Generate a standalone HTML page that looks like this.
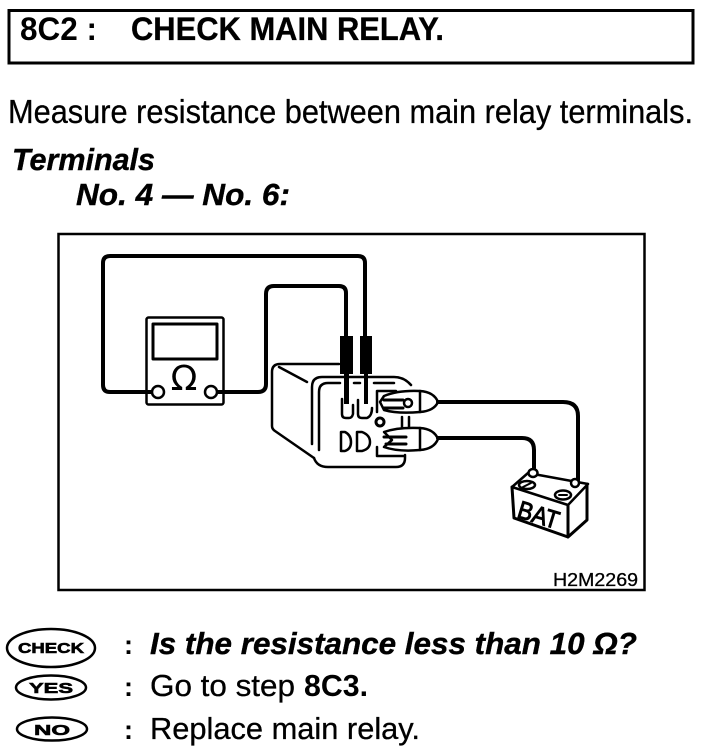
<!DOCTYPE html>
<html><head><meta charset="utf-8"><style>
html,body{margin:0;padding:0;background:#fff;width:704px;height:754px;overflow:hidden}
svg{display:block}
text{font-family:"Liberation Sans",sans-serif;fill:#000}
.b{font-weight:bold}.bi{font-weight:bold;font-style:italic}
</style></head><body>
<svg width="704" height="754" viewBox="0 0 704 754" xmlns="http://www.w3.org/2000/svg">
<rect x="9" y="10.500" width="684" height="52.500" fill="none" stroke="#000" stroke-width="3"/>
<text class="b" x="20" y="40" font-size="32" textLength="77" lengthAdjust="spacingAndGlyphs">8C2 :</text>
<text class="b" x="131" y="40" font-size="32" textLength="313" lengthAdjust="spacingAndGlyphs" stroke="#000" stroke-width=".3">CHECK MAIN RELAY.</text>
<text x="8" y="123" font-size="33" textLength="685" lengthAdjust="spacingAndGlyphs" stroke="#000" stroke-width=".3">Measure resistance between main relay terminals.</text>
<text class="bi" x="12" y="170" font-size="31" textLength="143" lengthAdjust="spacingAndGlyphs" stroke="#000" stroke-width=".4">Terminals</text>
<text class="bi" x="76" y="205" font-size="31" textLength="214" lengthAdjust="spacingAndGlyphs" stroke="#000" stroke-width=".4">No. 4 — No. 6:</text>

<rect x="58.500" y="234" width="586" height="356" fill="none" stroke="#000" stroke-width="2.500"/>

<g fill="none" stroke="#000" stroke-linejoin="round" stroke-linecap="round">
<path d="M152 392H110Q103 392 103 385V263Q103 256 110 256H358Q365 256 365 263V338" stroke-width="4"/>
<path d="M217 392H258Q266 392 266 384V294Q266 286 274 286H339Q346 286 346 293V338" stroke-width="4"/>
<rect x="146.500" y="317.500" width="77" height="87" rx="2" stroke-width="2.500"/>
<rect x="153" y="324" width="64" height="35" stroke-width="3"/>
<circle cx="158" cy="392" r="6" fill="#fff" stroke-width="2.500"/>
<circle cx="211" cy="392" r="6" fill="#fff" stroke-width="2.500"/>
<path d="M339 364H280Q272 364 272 372V426Q272 429 275 431L314 458" stroke-width="2.500"/>
<path d="M279 367L307 382" stroke-width="2.500"/>
<path d="M312 444V387Q312 377 322 377H394Q404 377 411 385" stroke-width="2.500"/>
<path d="M319 450V392Q319 383 328 383H340M354 383H360M374 383H394" stroke-width="2.500"/>
<path d="M314 458Q317 467 328 467H396Q405 467 405 458V455" stroke-width="2.500"/>
<path d="M342 399V414Q342 418 346 418H349Q352 418 353 414V405M358 400V414Q358 418 362 418H367Q372 416 372 408" stroke-width="2.500"/>
<path d="M341 432H345Q351 435 351 442Q351 449 345 451H341ZM357 432H362Q370 435 370 442Q370 449 362 451H357Z" stroke-width="2.500"/>
<path d="M377 412V391H396M377 447V456H404M402 417V427M409 417V427" stroke-width="2.500"/>
<circle cx="380" cy="422" r="4" stroke-width="3"/>
<path d="M384 396Q398 390 420 391Q434 392 438 402Q434 411 420 412Q398 414 384 410L380 402Z" fill="#fff" stroke-width="2.500"/>
<path d="M384 432Q398 427 420 428Q434 429 438 439Q434 449 420 450Q398 452 384 447L392 440Z" fill="#fff" stroke-width="2.500"/>
<path d="M420 391V412M420 428V450" stroke-width="2.500"/>
<path d="M384 400H403M384 408H403M384 437H406M386 444H406" stroke-width="3"/>
<circle cx="408" cy="403" r="4" fill="#fff" stroke-width="2.500"/>
<path d="M438 402H563Q578 402 578 416V480" stroke-width="4"/>
<path d="M438 438H522Q534 438 534 450V468" stroke-width="4"/>
<path d="M512 487L528 473L588 484L568 505Z" stroke-width="2.500"/>
<path d="M512 487L514 518L568 537V505M568 537L587 520V484" stroke-width="3"/>
<ellipse cx="533" cy="473" rx="4.500" ry="4" fill="#fff" stroke-width="2.500"/>
<ellipse cx="575" cy="483" rx="4" ry="4" fill="#fff" stroke-width="2.500"/>
<ellipse cx="527" cy="485" rx="8" ry="4" stroke-width="2.500"/>
<ellipse cx="563" cy="495" rx="8" ry="4.500" stroke-width="2.500"/>
<path d="M559 495H567M523 487L531 483" stroke-width="2"/>
<ellipse cx="51" cy="648" rx="44" ry="19" stroke-width="2.500"/>
<ellipse cx="51" cy="687.500" rx="35" ry="12" stroke-width="2.500"/>
<ellipse cx="52" cy="729" rx="35" ry="11.500" stroke-width="2.500"/>
</g>
<rect x="340" y="336" width="13" height="38"/>
<rect x="360" y="336" width="12" height="38"/>
<rect x="344" y="374" width="5" height="30"/>
<rect x="364" y="374" width="4" height="30"/>
<text x="184" y="390" font-size="35" text-anchor="middle" style="font-family:'DejaVu Sans',sans-serif">Ω</text>
<text transform="translate(516 517) rotate(17)" font-size="25" textLength="42" lengthAdjust="spacingAndGlyphs" stroke="#000" stroke-width="1">BAT</text>
<text x="553" y="586" font-size="18" textLength="85" lengthAdjust="spacingAndGlyphs" stroke="#000" stroke-width=".3">H2M2269</text>

<text class="b" x="51" y="653" font-size="14.500" text-anchor="middle" textLength="66" lengthAdjust="spacingAndGlyphs" stroke="#000" stroke-width=".6">CHECK</text>
<text class="b" x="51" y="693" font-size="15" text-anchor="middle" textLength="44" lengthAdjust="spacingAndGlyphs" stroke="#000" stroke-width=".6">YES</text>
<text class="b" x="52" y="735" font-size="15" text-anchor="middle" textLength="36" lengthAdjust="spacingAndGlyphs" stroke="#000" stroke-width=".6">NO</text>

<text class="b" x="124" y="654" font-size="27">:</text>
<text class="b" x="124" y="696" font-size="27">:</text>
<text class="b" x="124" y="739" font-size="27">:</text>
<text class="bi" x="150" y="654" font-size="31" textLength="487" lengthAdjust="spacingAndGlyphs" stroke="#000" stroke-width=".4">Is the resistance less than 10 Ω?</text>
<text x="150" y="696" font-size="31" textLength="145" lengthAdjust="spacingAndGlyphs" stroke="#000" stroke-width=".3">Go to step</text>
<text class="b" x="304" y="696" font-size="31" textLength="64" lengthAdjust="spacingAndGlyphs">8C3.</text>
<text x="150" y="739" font-size="31" textLength="270" lengthAdjust="spacingAndGlyphs" stroke="#000" stroke-width=".3">Replace main relay.</text>
</svg>
</body></html>
